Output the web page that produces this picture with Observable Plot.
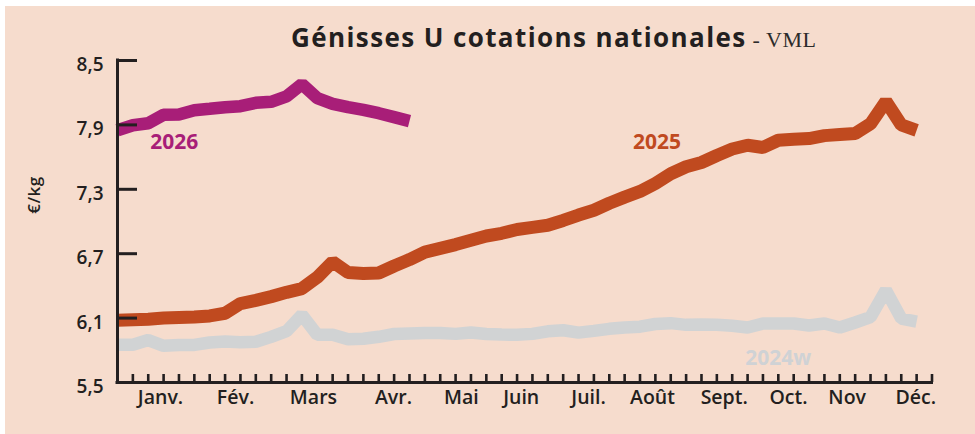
<!DOCTYPE html>
<html>
<head>
<meta charset="utf-8">
<script src="https://cdn.jsdelivr.net/npm/d3@7"></script>
<script src="https://cdn.jsdelivr.net/npm/@observablehq/plot@0.6"></script>
<style>
  body { margin: 0; background: #fff; }
  #wrap { position: relative; width: 975px; height: 434px; background: #fff; overflow: hidden; }
  #bg { position: absolute; left: 5px; top: 6px; right: 0; bottom: 0; background: #f6dccd; }
  #title { position: absolute; left: 291px; top: 24px; white-space: nowrap; line-height: 26px; }
  #title .main { font-family: "Open Sans", sans-serif; font-weight: 700; font-size: 26px; color: #231f20; letter-spacing: 1.4px; }
  #title .src { font-family: "Liberation Serif", serif; font-size: 22px; color: #2b2b2b; letter-spacing: 0.5px; }
  #ylab { position: absolute; left: 33px; top: 195px; transform: translate(-50%, -50%) rotate(-90deg);
          font-family: "Open Sans", sans-serif; font-weight: 600; font-size: 17px; color: #231f20; white-space: nowrap; letter-spacing: 0.5px; }
  #chart { position: absolute; left: 0; top: 0; }
</style>
</head>
<body>
<div id="wrap">
  <div id="bg"></div>
  <div id="title"><span class="main">Génisses U cotations nationales</span><span class="src"> - VML</span></div>
  <div id="ylab">€/kg</div>
  <div id="chart"></div>
</div>
<script>
// Weekly prices (€/kg), week index 0..52
const v2024 = [5.852, 5.852, 5.895, 5.842, 5.85, 5.85, 5.873, 5.882, 5.876, 5.879,
  5.925, 5.978, 6.13, 5.944, 5.944, 5.902, 5.907, 5.926, 5.952, 5.957,
  5.962, 5.961, 5.953, 5.966, 5.952, 5.947, 5.944, 5.953, 5.977, 5.987,
  5.965, 5.981, 6.0, 6.013, 6.02, 6.045, 6.053, 6.037, 6.04, 6.037,
  6.028, 6.012, 6.05, 6.05, 6.05, 6.031, 6.05, 6.012, 6.059, 6.109,
  6.36, 6.096, 6.068];
const v2025 = [6.08, 6.085, 6.09, 6.10, 6.105, 6.11, 6.12, 6.145, 6.235, 6.265,
  6.30, 6.34, 6.375, 6.48, 6.625, 6.525, 6.515, 6.52, 6.585, 6.645,
  6.715, 6.75, 6.785, 6.825, 6.865, 6.89, 6.925, 6.945, 6.965, 7.01,
  7.06, 7.105, 7.17, 7.227, 7.28, 7.355, 7.445, 7.51, 7.55, 7.615,
  7.675, 7.71, 7.69, 7.757, 7.767, 7.773, 7.80, 7.81, 7.82, 7.91,
  8.12, 7.90, 7.85];
const v2026 = [7.85, 7.897, 7.916, 7.994, 7.997, 8.037, 8.05, 8.065, 8.074, 8.106,
  8.115, 8.165, 8.28, 8.149, 8.096, 8.065, 8.04, 8.009, 7.972, 7.935];

const yTicks = [5.5, 6.1, 6.7, 7.3, 7.9, 8.5];
const weekTicks = d3.range(1, 54);
const months = ["Janv.", "Fév.", "Mars", "Avr.", "Mai", "Juin", "Juil.", "Août", "Sept.", "Oct.", "Nov", "Déc."];
const monthWeek = [2.8, 7.68, 12.75, 17.96, 22.38, 26.27, 30.65, 34.81, 39.48, 43.66, 47.48, 51.95];

const seriesNames = ["2026", "2025", "2024w"];
const labelWeek = [3.7, 35.1, 43.0];
const labelValue = [7.736, 7.736, 5.728];
const colors = ["#a81e78", "#c04a1f", "#d1d3d4"];
const labelColors = ["#a81e78", "#c04a1f", "#cfd2d5"];

const ink = "#231f20";
const lineOpts = {strokeWidth: 12.5, strokeLinejoin: "miter", strokeLinecap: "butt"};

const chart = Plot.plot({
  width: 975,
  height: 434,
  marginLeft: 117,
  marginRight: 43.5,
  marginTop: 60,
  marginBottom: 52,
  x: {domain: [0, 53], axis: null},
  y: {domain: [5.5, 8.5], axis: null},
  style: {background: "transparent", fontFamily: "Open Sans, sans-serif", overflow: "visible"},
  marks: [
    Plot.lineY(v2024, {stroke: colors[2], ...lineOpts}),
    Plot.lineY(v2025, {stroke: colors[1], ...lineOpts, strokeWidth: 13}),
    Plot.lineY(v2026, {stroke: colors[0], ...lineOpts}),
    Plot.ruleX([0], {stroke: ink, strokeWidth: 3, strokeLinecap: "square"}),
    Plot.ruleY([5.5], {stroke: ink, strokeWidth: 3, strokeLinecap: "square"}),
    Plot.axisY(yTicks, {anchor: "left", tickSize: -20, strokeWidth: 3, stroke: ink, tickFormat: () => ""}),
    Plot.axisX(weekTicks, {anchor: "bottom", tickSize: -8, strokeWidth: 2.6, stroke: ink, tickFormat: () => ""}),
    Plot.axisY(yTicks, {anchor: "left", tickSize: 0, tickPadding: 14, dy: 4.5,
      tickFormat: d => d3.format(".1f")(d).replace(".", ","),
      fontSize: 19, fontWeight: 600, fill: ink, letterSpacing: 2.6}),
    Plot.text(months, {x: (d, i) => monthWeek[i], text: d => d, frameAnchor: "bottom", dy: 21.5,
      fontSize: 19.5, fontWeight: 600, fill: ink, letterSpacing: 2.3}),
    ...seriesNames.map((s, i) => Plot.text([s], {x: labelWeek[i], y: labelValue[i], text: d => d,
      fill: labelColors[i], fontSize: 21, fontWeight: 700, letterSpacing: 3}))
  ]
});
document.getElementById("chart").appendChild(chart);
</script>
</body>
</html>
